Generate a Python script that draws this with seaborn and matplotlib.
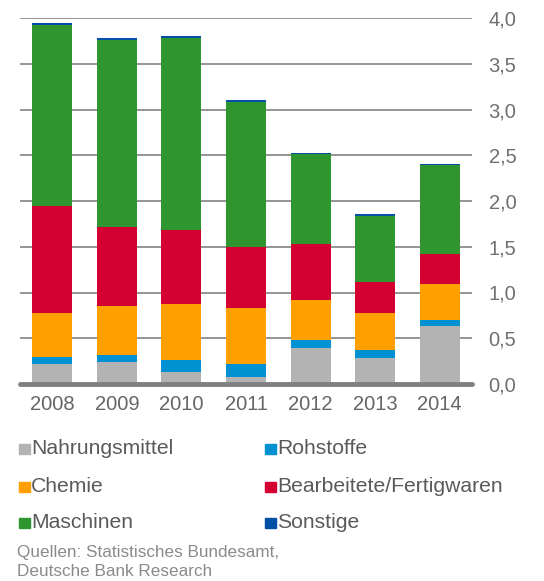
import numpy as np
import pandas as pd
import matplotlib
matplotlib.use('Agg')
import matplotlib.pyplot as plt
from matplotlib.patches import Rectangle
import seaborn as sns

sns.set_style('white')
plt.rcParams['font.family'] = ['Liberation Sans', 'DejaVu Sans']

# data
years = ['2008', '2009', '2010', '2011', '2012', '2013', '2014']
categories = ['Nahrungsmittel', 'Rohstoffe', 'Chemie', 'Bearbeitete/Fertigwaren', 'Maschinen', 'Sonstige']
nahrung = [0.215, 0.24, 0.13, 0.08, 0.39, 0.28, 0.63]
rohstoffe = [0.085, 0.08, 0.13, 0.135, 0.09, 0.09, 0.07]
chemie = [0.48, 0.53, 0.61, 0.615, 0.435, 0.41, 0.39]
bearbeitet = [1.16, 0.87, 0.81, 0.67, 0.615, 0.33, 0.33]
maschinen = [1.98, 2.04, 2.10, 1.58, 0.98, 0.73, 0.97]
sonstige = [0.02, 0.02, 0.02, 0.02, 0.02, 0.015, 0.015]
colors = ['#b3b3b3', '#0091d2', '#ff9f00', '#d50032', '#2f962f', '#0050a8']
yticks = [0.0, 0.5, 1.0, 1.5, 2.0, 2.5, 3.0, 3.5, 4.0]

df = pd.DataFrame({'year': years})
for c, v in zip(categories, [nahrung, rohstoffe, chemie, bearbeitet, maschinen, sonstige]):
	df[c] = v
cum = df[categories].cumsum(axis=1)
cum['year'] = df['year']

fig = plt.figure(figsize=(5.44, 5.81), dpi=100)
ax = fig.add_axes([20/544, 1-384/581, 452/544, 366/581])

for y in yticks[1:]:
	ax.axhline(y, color='#8c8c8c', lw=1.3, zorder=0)

# stacked bars: draw cumulative totals, largest first
for c, col in reversed(list(zip(categories, colors))):
	sns.barplot(data=cum, x='year', y=c, color=col, width=0.62, ax=ax,
		saturation=1, edgecolor='none', zorder=2)

ax.axhline(0, color='#808080', lw=3.5, zorder=3, clip_on=False)
ax.set_xlim(-0.5, 6.5)
ax.set_ylim(0, 4)
ax.yaxis.tick_right()
ax.set_yticks(yticks)
ax.set_yticklabels([f'{t:.1f}'.replace('.', ',') for t in yticks])
ax.tick_params(axis='y', length=0, pad=12, labelsize=14.5, labelcolor='#707070')
ax.tick_params(axis='x', length=0, pad=8, labelsize=14.5, labelcolor='#666666')
ax.set_xlabel('')
ax.set_ylabel('')
for s in ax.spines.values():
	s.set_visible(False)

# legend, two columns
rows = [449, 487, 523]
cols_x = [19, 265]
order = [(0, 0), (1, 0), (0, 1), (1, 1), (0, 2), (1, 2)]
for (ci, ri), lab, col in zip(order, categories, colors):
	x0 = cols_x[ci]
	yc = rows[ri]
	fig.patches.append(Rectangle((x0/544, 1-(yc+5)/581), 11/544, 10/581,
		transform=fig.transFigure, color=col, figure=fig))
	fig.text((x0+12)/544, 1-yc/581, lab, fontsize=15.2, color='#5a5a5a', va='center', ha='left')

fig.text(17/544, 1-553/581, 'Quellen: Statistisches Bundesamt,', fontsize=12.3, color='#8a8a8a', va='center')
fig.text(17/544, 1-571/581, 'Deutsche Bank Research', fontsize=12.3, color='#8a8a8a', va='center')

fig.savefig('out.png', dpi=100)
